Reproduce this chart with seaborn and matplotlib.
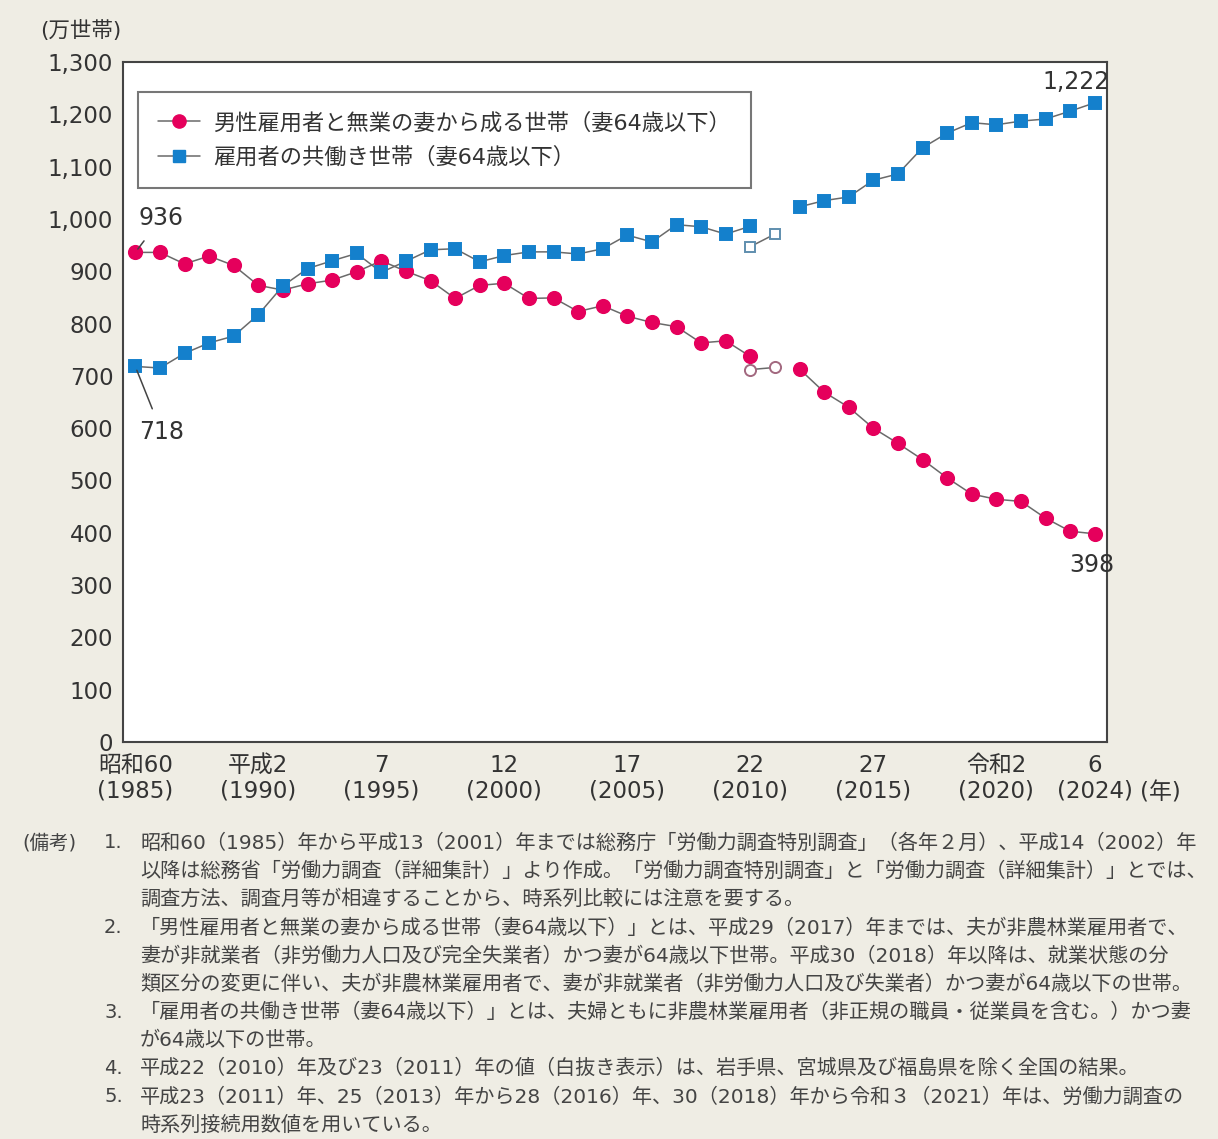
import numpy as np
import pandas as pd
import matplotlib
matplotlib.use("Agg")
import matplotlib.pyplot as plt
from matplotlib.lines import Line2D
import seaborn as sns

# --- data (万世帯) ---
years_main = list(range(1985, 2011))
male_main = [936, 936, 914, 929, 911, 873, 864, 876, 883, 899, 920, 900, 882,
             848, 873, 877, 848, 849, 823, 834, 814, 802, 794, 763, 767, 737]
dual_main = [718, 715, 743, 763, 776, 817, 872, 905, 920, 934, 898, 919, 941,
             943, 918, 930, 937, 937, 933, 943, 969, 956, 989, 985, 971, 986]

# 白抜き表示 (岩手県、宮城県及び福島県を除く)
years_open = [2010, 2011]
male_open = [712, 716]
dual_open = [947, 971]

years_late = list(range(2012, 2025))
male_late = [713, 669, 640, 600, 571, 540, 505, 474, 464, 460, 428, 403, 398]
dual_late = [1023, 1035, 1042, 1074, 1086, 1136, 1164, 1184, 1180, 1187, 1191, 1206, 1222]

label_male = "男性雇用者と無業の妻から成る世帯（妻64歳以下）"
label_dual = "雇用者の共働き世帯（妻64歳以下）"

tick_years = [1985, 1990, 1995, 2000, 2005, 2010, 2015, 2020, 2024]
tick_labels = ["昭和60\n(1985)", "平成2\n(1990)", "7\n(1995)", "12\n(2000)", "17\n(2005)",
               "22\n(2010)", "27\n(2015)", "令和2\n(2020)", "6\n(2024)"]

notes = [
    ("(備考)", "1.", "昭和60（1985）年から平成13（2001）年までは総務庁「労働力調査特別調査」（各年２月）、平成14（2002）年"),
    ("", "", "以降は総務省「労働力調査（詳細集計）」より作成。「労働力調査特別調査」と「労働力調査（詳細集計）」とでは、"),
    ("", "", "調査方法、調査月等が相違することから、時系列比較には注意を要する。"),
    ("", "2.", "「男性雇用者と無業の妻から成る世帯（妻64歳以下）」とは、平成29（2017）年までは、夫が非農林業雇用者で、"),
    ("", "", "妻が非就業者（非労働力人口及び完全失業者）かつ妻が64歳以下世帯。平成30（2018）年以降は、就業状態の分"),
    ("", "", "類区分の変更に伴い、夫が非農林業雇用者で、妻が非就業者（非労働力人口及び失業者）かつ妻が64歳以下の世帯。"),
    ("", "3.", "「雇用者の共働き世帯（妻64歳以下）」とは、夫婦ともに非農林業雇用者（非正規の職員・従業員を含む。）かつ妻"),
    ("", "", "が64歳以下の世帯。"),
    ("", "4.", "平成22（2010）年及び23（2011）年の値（白抜き表示）は、岩手県、宮城県及び福島県を除く全国の結果。"),
    ("", "5.", "平成23（2011）年、25（2013）年から28（2016）年、30（2018）年から令和３（2021）年は、労働力調査の"),
    ("", "", "時系列接続用数値を用いている。"),
]

PINK = "#e5005c"
BLUE = "#1480cc"
PINK_OPEN = "#a2687f"
BLUE_OPEN = "#5f8eae"
LINE = "#6a6a6a"
BG = "#efede4"
TXT = "#333333"
NOTE = "#444444"

sns.set_theme(style="white")
# DejaVu for digits/latin (wider, like the original), Noto CJK for Japanese
plt.rcParams["font.family"] = ["DejaVu Sans", "Noto Sans CJK JP"]

fig = plt.figure(figsize=(12.18, 11.39), dpi=100, facecolor=BG)
ax = fig.add_axes([123 / 1218, 1 - 742 / 1139, (1107 - 123) / 1218, (742 - 62) / 1139])
ax.set_facecolor("white")

segments = [
    (years_main, male_main, "o", 9.5, PINK, PINK),
    (years_late, male_late, "o", 9.5, PINK, PINK),
    (years_open, male_open, "o", 8, "white", PINK_OPEN),
    (years_main, dual_main, "s", 8, BLUE, BLUE),
    (years_late, dual_late, "s", 8, BLUE, BLUE),
    (years_open, dual_open, "s", 7, "white", BLUE_OPEN),
]
for xs, ys, mk, ms, fc, ec in segments:
    df = pd.DataFrame({"year": xs, "value": ys})
    sns.lineplot(data=df, x="year", y="value", ax=ax, color=LINE, linewidth=1.1,
                 marker=mk, markersize=ms, markerfacecolor=fc, markeredgecolor=ec,
                 markeredgewidth=1.4, estimator=None, sort=False, zorder=3)

ax.set_xlim(1984.5, 2024.5)
ax.set_ylim(0, 1300)
ax.set_xlabel("")
ax.set_ylabel("")

all_years = list(range(1985, 2025))
ax.set_xticks(all_years)
ax.set_xticklabels([tick_labels[tick_years.index(y)] if y in tick_years else "" for y in all_years],
                   fontsize=16.5, color=TXT, linespacing=1.1)
ax.set_yticks(range(0, 1301, 100))
ax.set_yticklabels([f"{v:,}" for v in range(0, 1301, 100)], fontsize=16.5, color=TXT)
ax.tick_params(axis="x", direction="in", length=12, width=1.3, color="#444444", pad=9)
ax.tick_params(axis="y", direction="in", length=8.5, width=1.3, color="#444444", pad=7)
for sp in ax.spines.values():
    sp.set_visible(True)
    sp.set_color("#444444")
    sp.set_linewidth(1.5)

# value callouts
ax.annotate(f"{male_main[0]}", xy=(years_main[0], male_main[0]), xytext=(1985.15, 1002),
            fontsize=17, color=TXT, va="center", ha="left",
            arrowprops=dict(arrowstyle="-", color="#444444", lw=1.1, shrinkA=7, shrinkB=3))
ax.annotate(f"{dual_main[0]}", xy=(years_main[0], dual_main[0]), xytext=(1985.15, 593),
            fontsize=17, color=TXT, va="center", ha="left",
            arrowprops=dict(arrowstyle="-", color="#444444", lw=1.1, shrinkA=6, shrinkB=3))
ax.text(years_late[-1] + 0.6, dual_late[-1] + 40, f"{dual_late[-1]:,}", fontsize=17,
        color=TXT, ha="right", va="center")
ax.text(years_late[-1] - 0.1, male_late[-1] - 60, f"{male_late[-1]}", fontsize=17,
        color=TXT, ha="center", va="center")

handles = [
    Line2D([0], [0], color=LINE, lw=1.1, marker="o", markersize=9.5,
           markerfacecolor=PINK, markeredgecolor=PINK),
    Line2D([0], [0], color=LINE, lw=1.1, marker="s", markersize=8,
           markerfacecolor=BLUE, markeredgecolor=BLUE),
]
leg = ax.legend(handles, [label_male, label_dual], loc="upper left",
                bbox_to_anchor=(0.015, 0.956), borderaxespad=0, fontsize=16,
                frameon=True, fancybox=False, handlelength=1.9, handletextpad=0.6,
                labelspacing=0.6, borderpad=0.9)
leg.get_frame().set_edgecolor("#555555")
leg.get_frame().set_linewidth(1.5)
for t in leg.get_texts():
    t.set_color(TXT)

fig.text(40 / 1218, 1 - 30 / 1139, "(万世帯)", fontsize=15.5, color=TXT, ha="left", va="center")
fig.text(1160 / 1218, 1 - 793 / 1139, "(年)", fontsize=16.5, color=TXT, ha="center", va="center")

# 備考
y0, dy = 843, 28.2
for i, (head, num, body) in enumerate(notes):
    yy = 1 - (y0 + i * dy) / 1139
    if head:
        fig.text(22 / 1218, yy, head, fontsize=14, color=NOTE, ha="left", va="center")
    if num:
        fig.text(104 / 1218, yy, num, fontsize=14, color=NOTE, ha="left", va="center")
    fig.text(140 / 1218, yy, body, fontsize=14.5, color=NOTE, ha="left", va="center")

fig.savefig("out.png", dpi=100, facecolor=BG)
